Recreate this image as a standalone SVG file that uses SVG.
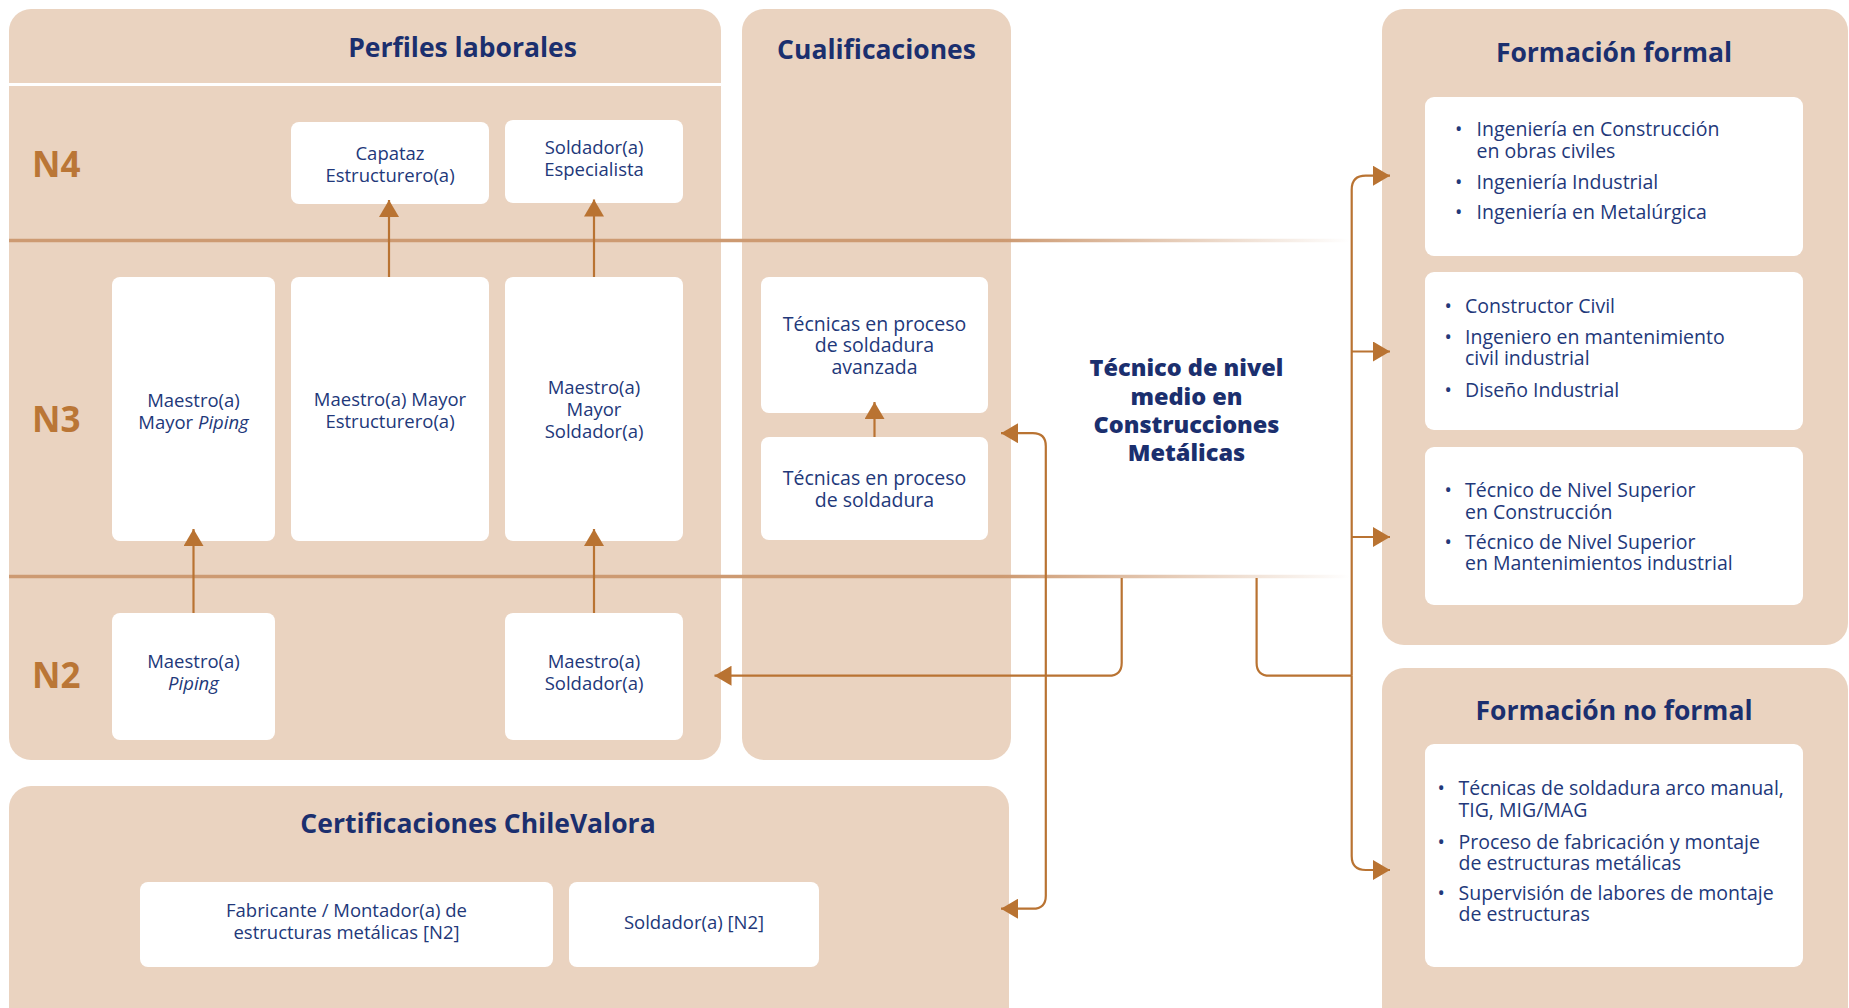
<svg xmlns="http://www.w3.org/2000/svg" width="1849" height="1008" viewBox="0 0 1849 1008">
<defs>
<style>
.panel{fill:#EAD3C0}
.box{fill:#FFFFFF}
.title{font-family:"Open Sans","Liberation Sans",sans-serif;font-weight:700;font-size:26.5px;fill:#1B2F6E;text-anchor:middle}
.lvl{font-family:"Open Sans","Liberation Sans",sans-serif;font-weight:700;font-size:35px;fill:#BA7636}
.t{font-family:"Open Sans","Liberation Sans",sans-serif;font-weight:400;font-size:18.5px;fill:#22387A;text-anchor:middle}
.tq{font-family:"Open Sans","Liberation Sans",sans-serif;font-weight:400;font-size:19.5px;fill:#22387A;text-anchor:middle}
.li{font-family:"Open Sans","Liberation Sans",sans-serif;font-weight:400;font-size:19.5px;fill:#22387A}
.center{font-family:"Open Sans","Liberation Sans",sans-serif;font-weight:800;font-size:23.5px;fill:#1B2F6E;text-anchor:middle}
.conn{fill:none;stroke:#B97332;stroke-width:2.2}
.sep{stroke:url(#sepFade);stroke-width:3.5}
</style>
<linearGradient id="sepFade" gradientUnits="userSpaceOnUse" x1="9" y1="0" x2="1350" y2="0">
<stop offset="0" stop-color="#CD9A72" stop-opacity="1"/>
<stop offset="0.74" stop-color="#CD9A72" stop-opacity="1"/>
<stop offset="1" stop-color="#CD9A72" stop-opacity="0"/>
</linearGradient>
<marker id="ah" markerUnits="userSpaceOnUse" markerWidth="18" markerHeight="20" refX="17" refY="10" orient="auto" viewBox="0 0 18 20">
<path d="M0,0 L17,10 L0,20 Z" fill="#B97332"/>
</marker>
</defs>

<g id="panels">
<g id="perfiles-laborales">
<rect class="panel" x="9" y="9" width="712" height="751" rx="22"/>
<rect x="9" y="83" width="712" height="3" fill="#FFFFFF"/>
<text class="title" x="462.5" y="56.5">Perfiles laborales</text>
</g>
<g id="cualificaciones">
<rect class="panel" x="742" y="9" width="269" height="751" rx="22"/>
<text class="title" x="876.5" y="59">Cualificaciones</text>
</g>
<g id="certificaciones">
<rect class="panel" x="9" y="786" width="1000" height="260" rx="22"/>
<text class="title" x="478" y="832.5">Certificaciones ChileValora</text>
</g>
<g id="formacion-formal">
<rect class="panel" x="1382" y="9" width="466" height="636" rx="22"/>
<text class="title" x="1614" y="61.5">Formación formal</text>
</g>
<g id="formacion-no-formal">
<rect class="panel" x="1382" y="668" width="466" height="380" rx="22"/>
<text class="title" x="1614" y="720">Formación no formal</text>
</g>
</g>

<g id="separators">
<line class="sep" x1="9" y1="240.5" x2="1350" y2="240.5"/>
<line class="sep" x1="9" y1="576.5" x2="1350" y2="576.5"/>
</g>

<g id="levels">
<text class="lvl" x="32" y="177">N4</text>
<text class="lvl" x="32" y="431.5">N3</text>
<text class="lvl" x="32" y="688">N2</text>
</g>

<g id="capataz-estructurero">
<rect class="box" x="291" y="122" width="198" height="82" rx="8"/>
<text class="t" x="390" y="160">Capataz<tspan x="390" dy="21.5">Estructurero(a)</tspan></text>
</g>
<g id="soldador-especialista">
<rect class="box" x="505" y="120" width="178" height="83" rx="8"/>
<text class="t" x="594" y="154">Soldador(a)<tspan x="594" dy="22">Especialista</tspan></text>
</g>
<g id="maestro-mayor-piping">
<rect class="box" x="112" y="277" width="163" height="264" rx="8"/>
<text class="t" x="193.5" y="406.5">Maestro(a)<tspan x="193.5" dy="22.5">Mayor </tspan><tspan font-style="italic">Piping</tspan></text>
</g>
<g id="maestro-mayor-estructurero">
<rect class="box" x="291" y="277" width="198" height="264" rx="8"/>
<text class="t" x="390" y="405.5">Maestro(a) Mayor<tspan x="390" dy="22">Estructurero(a)</tspan></text>
</g>
<g id="maestro-mayor-soldador">
<rect class="box" x="505" y="277" width="178" height="264" rx="8"/>
<text class="t" x="594" y="394">Maestro(a)<tspan x="594" dy="22">Mayor</tspan><tspan x="594" dy="22">Soldador(a)</tspan></text>
</g>
<g id="maestro-piping">
<rect class="box" x="112" y="613" width="163" height="127" rx="8"/>
<text class="t" x="193.5" y="668">Maestro(a)<tspan x="193.5" dy="22" font-style="italic">Piping</tspan></text>
</g>
<g id="maestro-soldador">
<rect class="box" x="505" y="613" width="178" height="127" rx="8"/>
<text class="t" x="594" y="668">Maestro(a)<tspan x="594" dy="22">Soldador(a)</tspan></text>
</g>

<g id="tecnicas-avanzada">
<rect class="box" x="761" y="277" width="227" height="136" rx="8"/>
<text class="tq" x="874.5" y="330.5">Técnicas en proceso<tspan x="874.5" dy="21.5">de soldadura</tspan><tspan x="874.5" dy="21.5">avanzada</tspan></text>
</g>
<g id="tecnicas-soldadura">
<rect class="box" x="761" y="437" width="227" height="103" rx="8"/>
<text class="tq" x="874.5" y="485">Técnicas en proceso<tspan x="874.5" dy="21.5">de soldadura</tspan></text>
</g>

<g id="tecnico-nivel-medio">
<text class="center" x="1186.5" y="376">Técnico de nivel<tspan x="1186.5" dy="29">medio en</tspan><tspan x="1186.5" dy="28">Construcciones</tspan><tspan x="1186.5" dy="28">Metálicas</tspan></text>
</g>

<g id="cert-fabricante">
<rect class="box" x="140" y="882" width="413" height="85" rx="8"/>
<text class="t" x="346.5" y="916.5" font-size="19">Fabricante / Montador(a) de<tspan x="346.5" dy="22">estructuras metálicas [N2]</tspan></text>
</g>
<g id="cert-soldador">
<rect class="box" x="569" y="882" width="250" height="85" rx="8"/>
<text class="t" x="694" y="928.5" font-size="19">Soldador(a) [N2]</text>
</g>

<g id="ff-ingenierias">
<rect class="box" x="1425" y="97" width="378" height="159" rx="9"/>
<text class="li" x="1455" y="136">•<tspan dy="52.5" x="1455">•</tspan><tspan dy="30" x="1455">•</tspan></text>
<text class="li" x="1476.5" y="136">Ingeniería en Construcción<tspan x="1476.5" dy="21.5">en obras civiles</tspan><tspan x="1476.5" dy="31">Ingeniería Industrial</tspan><tspan x="1476.5" dy="30">Ingeniería en Metalúrgica</tspan></text>
</g>
<g id="ff-constructor">
<rect class="box" x="1425" y="272" width="378" height="158" rx="9"/>
<text class="li" x="1444.5" y="313">•<tspan dy="30.5" x="1444.5">•</tspan><tspan dy="53" x="1444.5">•</tspan></text>
<text class="li" x="1465" y="313">Constructor Civil<tspan x="1465" dy="30.5">Ingeniero en mantenimiento</tspan><tspan x="1465" dy="21.5">civil industrial</tspan><tspan x="1465" dy="31.5">Diseño Industrial</tspan></text>
</g>
<g id="ff-tecnico-superior">
<rect class="box" x="1425" y="447" width="378" height="158" rx="9"/>
<text class="li" x="1444.5" y="496.5">•<tspan dy="52" x="1444.5">•</tspan></text>
<text class="li" x="1465" y="496.5">Técnico de Nivel Superior<tspan x="1465" dy="22">en Construcción</tspan><tspan x="1465" dy="30">Técnico de Nivel Superior</tspan><tspan x="1465" dy="21.5">en Mantenimientos industrial</tspan></text>
</g>
<g id="fnf-cursos">
<rect class="box" x="1425" y="744" width="378" height="223" rx="9"/>
<text class="li" x="1437.5" y="795">•<tspan dy="53.5" x="1437.5">•</tspan><tspan dy="51" x="1437.5">•</tspan></text>
<text class="li" x="1458.5" y="795">Técnicas de soldadura arco manual,<tspan x="1458.5" dy="21.5">TIG, MIG/MAG</tspan><tspan x="1458.5" dy="32">Proceso de fabricación y montaje</tspan><tspan x="1458.5" dy="21">de estructuras metálicas</tspan><tspan x="1458.5" dy="30">Supervisión de labores de montaje</tspan><tspan x="1458.5" dy="21.5">de estructuras</tspan></text>
</g>

<g id="connectors">
<path class="conn" marker-end="url(#ah)" d="M389,277 V200"/>
<path class="conn" marker-end="url(#ah)" d="M594,277 V199.5"/>
<path class="conn" marker-end="url(#ah)" d="M193.5,613 V529"/>
<path class="conn" marker-end="url(#ah)" d="M594,613 V529"/>
<path class="conn" marker-end="url(#ah)" d="M874.5,437 V402"/>
<path class="conn" marker-end="url(#ah)" d="M1121.7,578 V662.7 Q1121.7,675.7 1108.7,675.7 H714.5"/>
<path class="conn" marker-end="url(#ah)" d="M1045.8,675.7 V446.2 Q1045.8,433.2 1032.8,433.2 H1001"/>
<path class="conn" marker-end="url(#ah)" d="M1045.8,675.7 V895.7 Q1045.8,908.7 1032.8,908.7 H1001"/>
<path class="conn" d="M1256.6,578 V662.7 Q1256.6,675.7 1269.6,675.7 H1351.7"/>
<path class="conn" marker-end="url(#ah)" d="M1351.7,675.7 V189.7 Q1351.7,175.7 1365.7,175.7 H1390"/>
<path class="conn" marker-end="url(#ah)" d="M1351.7,675.7 V856 Q1351.7,870 1365.7,870 H1390"/>
<path class="conn" marker-end="url(#ah)" d="M1351.7,351.5 H1390"/>
<path class="conn" marker-end="url(#ah)" d="M1351.7,537 H1390"/>
</g>
</svg>
